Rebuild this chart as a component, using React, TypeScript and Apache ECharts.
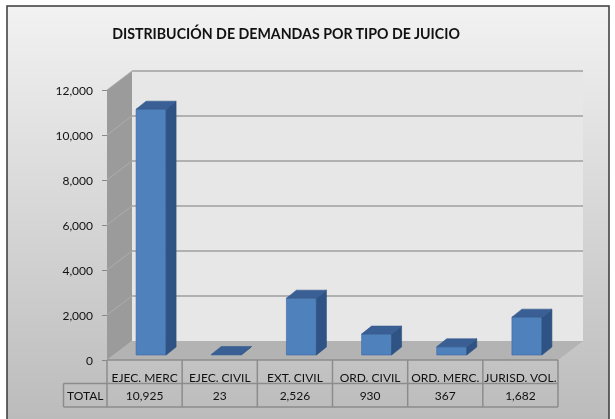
import React, { useEffect, useRef } from "react";
import * as echarts from "echarts";

const chartTitle = "DISTRIBUCIÓN DE DEMANDAS POR TIPO DE JUICIO";
const categories = ["EJEC. MERC", "EJEC. CIVIL", "EXT. CIVIL", "ORD. CIVIL", "ORD. MERC.", "JURISD. VOL."];
const totals = [10925, 23, 2526, 930, 367, 1682];
const tableRowLabel = "TOTAL";
const yMin = 0;
const yMax = 12000;
const yInterval = 2000;
const gridValues = [2000, 4000, 6000, 8000, 10000, 12000];

const FONT = "Lato, 'Open Sans', sans-serif";
const fmt = (v: number) => v.toLocaleString("en-US");

// 3D geometry (styling)
const DX = 25;
const DY = -19;
const BAR_W = 30;
const BAR_SX = 10;
const BAR_SY = -8;
const BAR_OX = 6.5;
const BAR_OY = -5;
const ROW1_BOTTOM = 383.5;
const ROW2_BOTTOM = 407;
const TOTAL_LEFT = 63.5;

export default function App() {
  const ref = useRef<HTMLDivElement>(null);
  useEffect(() => {
    if (!ref.current) return;
    const chart = echarts.init(ref.current, null, { renderer: "svg" });

    const wallsRender = (params: any, api: any) => {
      const cs = params.coordSys;
      const left = cs.x;
      const right = cs.x + cs.width;
      const y0 = api.coord([0, 0])[1];
      const yTop = api.coord([0, yMax])[1];
      const bw = api.size([1, 0])[0];
      const children: any[] = [];
      children.push({
        type: "rect",
        shape: { x: left + DX, y: yTop + DY, width: right - left, height: y0 - yTop },
        style: { fill: "#e7e7e7" },
      });
      children.push({
        type: "polygon",
        shape: { points: [[left, yTop], [left + DX, yTop + DY], [left + DX, y0 + DY], [left, y0]] },
        style: { fill: "#9b9b9b" },
      });
      children.push({
        type: "polygon",
        shape: { points: [[left, y0], [left + DX, y0 + DY], [right + DX, y0 + DY], [right, y0]] },
        style: { fill: "#b3b3b3" },
      });
      gridValues.forEach((v) => {
        const y = api.coord([0, v])[1];
        children.push({
          type: "line",
          shape: { x1: left + DX, y1: y + DY, x2: right + DX, y2: y + DY },
          style: { stroke: "#9f9f9f", lineWidth: 1.7 },
        });
        children.push({
          type: "line",
          shape: { x1: left, y1: y, x2: left + DX, y2: y + DY },
          style: { stroke: "#adadad", lineWidth: 1 },
        });
      });
      // table
      const lineStyle = { stroke: "#8c8c8c", lineWidth: 1.5 };
      children.push({ type: "line", shape: { x1: left, y1: y0, x2: right, y2: y0 }, style: lineStyle });
      children.push({ type: "line", shape: { x1: TOTAL_LEFT, y1: ROW1_BOTTOM, x2: right, y2: ROW1_BOTTOM }, style: lineStyle });
      children.push({ type: "line", shape: { x1: TOTAL_LEFT, y1: ROW2_BOTTOM, x2: right, y2: ROW2_BOTTOM }, style: lineStyle });
      children.push({ type: "line", shape: { x1: TOTAL_LEFT, y1: ROW1_BOTTOM, x2: TOTAL_LEFT, y2: ROW2_BOTTOM }, style: lineStyle });
      for (let i = 0; i <= categories.length; i++) {
        const x = left + i * bw;
        children.push({ type: "line", shape: { x1: x, y1: y0, x2: x, y2: ROW2_BOTTOM }, style: lineStyle });
      }
      children.push({
        type: "text",
        x: (TOTAL_LEFT + left) / 2,
        y: (ROW1_BOTTOM + ROW2_BOTTOM) / 2,
        style: { text: tableRowLabel, textAlign: "center", textVerticalAlign: "middle", fontSize: 12, fontFamily: FONT, fill: "#111" },
      });
      return { type: "group", children };
    };

    const barsRender = (params: any, api: any) => {
      const idx = api.value(0);
      const val = api.value(1);
      const [cx, yb0] = api.coord([idx, 0]);
      const yt0 = api.coord([idx, val])[1];
      const x0 = cx + BAR_OX - BAR_W / 2;
      const yB = yb0 + BAR_OY;
      const yT = yt0 + BAR_OY;
      const edge = { stroke: "#3d6aa3", lineWidth: 0.6 };
      return {
        type: "group",
        children: [
          {
            type: "rect",
            shape: { x: x0, y: yT, width: BAR_W, height: Math.max(yB - yT, 0.3) },
            style: { fill: "#4f81bd", ...edge },
          },
          {
            type: "polygon",
            shape: { points: [[x0 + BAR_W, yT], [x0 + BAR_W + BAR_SX, yT + BAR_SY], [x0 + BAR_W + BAR_SX, yB + BAR_SY], [x0 + BAR_W, yB]] },
            style: { fill: "#2f5384", stroke: "#2c4f7c", lineWidth: 0.6 },
          },
          {
            type: "polygon",
            shape: { points: [[x0, yT], [x0 + BAR_SX, yT + BAR_SY], [x0 + BAR_W + BAR_SX, yT + BAR_SY], [x0 + BAR_W, yT]] },
            style: { fill: "#395f95", stroke: "#355a8c", lineWidth: 0.6 },
          },
          {
            type: "text",
            x: cx,
            y: (ROW1_BOTTOM + ROW2_BOTTOM) / 2,
            style: { text: fmt(val), textAlign: "center", textVerticalAlign: "middle", fontSize: 12, fontFamily: FONT, fill: "#111" },
          },
        ],
      };
    };

    chart.setOption({
      animation: false,
      graphic: [
        {
          type: "rect",
          z: -100,
          silent: true,
          shape: { x: 7, y: 6, width: 602, height: 440 },
          style: {
            fill: new echarts.graphic.LinearGradient(0, 0, 0, 1, [
              { offset: 0, color: "#f2f2f2" },
              { offset: 1, color: "#b8b8b8" },
            ]),
            stroke: "#3a3a3a",
            lineWidth: 1.5,
          },
        },
        {
          type: "text",
          x: 286,
          y: 33.5,
          style: {
            text: chartTitle,
            textAlign: "center",
            textVerticalAlign: "middle",
            fontSize: 14.2,
            fontWeight: "bold",
            fontFamily: FONT,
            fill: "#111",
          },
        },
      ],
      grid: { left: 107, right: 57, top: 90, bottom: 59, containLabel: false },
      xAxis: {
        type: "category",
        data: categories,
        axisLine: { show: false },
        axisTick: { show: false },
        axisLabel: { fontSize: 12, fontFamily: FONT, color: "#111", margin: 11, interval: 0 },
        splitLine: { show: false },
      },
      yAxis: {
        type: "value",
        min: yMin,
        max: yMax,
        interval: yInterval,
        axisLine: { show: false },
        axisTick: { show: true, length: 5, lineStyle: { color: "#888", width: 1 } },
        splitLine: { show: false },
        axisLabel: { fontSize: 12, fontFamily: FONT, color: "#111", margin: 14, formatter: (v: number) => fmt(v) },
      },
      series: [
        { type: "custom", z: 1, data: [[0, 0]], renderItem: wallsRender, silent: true },
        { type: "custom", z: 5, data: totals.map((v, i) => [i, v]), renderItem: barsRender, silent: true },
      ],
    });
    return () => chart.dispose();
  }, []);
  return <div ref={ref} style={{ position: "fixed", left: 0, top: 0, width: 615, height: 419 }} />;
}
